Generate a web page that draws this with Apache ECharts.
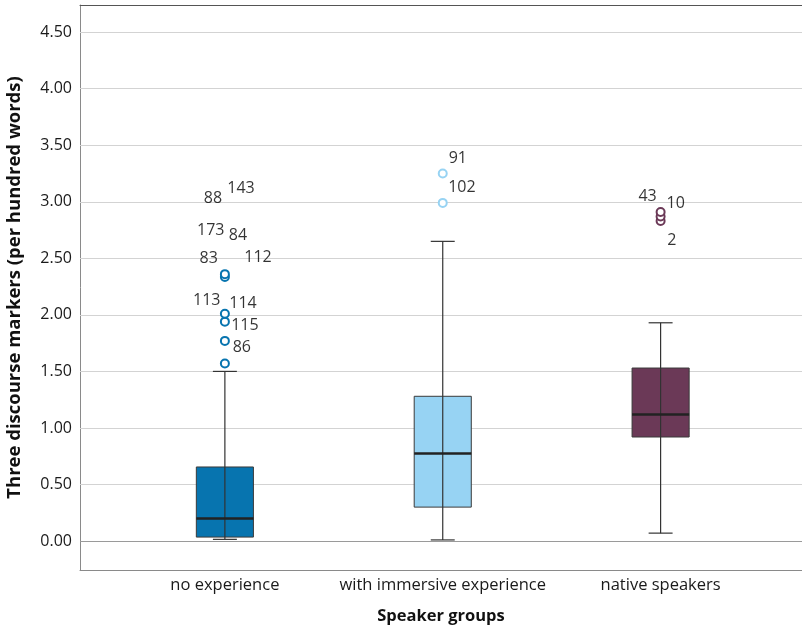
<!DOCTYPE html>
<html>
<head>
<meta charset="utf-8">
<script src="https://cdn.jsdelivr.net/npm/echarts@6/dist/echarts.min.js"></script>
<style>html,body{margin:0;padding:0;background:#fff;}#chart{width:802px;height:630px;}</style>
</head>
<body>
<div id="chart"></div>
<script>
// ---- data ----
const groups = ['no experience', 'with immersive experience', 'native speakers'];
const whiskerLow = [0.015, 0.01, 0.07];
const q1 = [0.035, 0.30, 0.92];
const median = [0.20, 0.775, 1.12];
const q3 = [0.655, 1.28, 1.53];
const whiskerHigh = [1.50, 2.65, 1.93];
const outliers = [
  [1.57, 1.77, 1.94, 2.01, 2.335, 2.36],
  [2.99, 3.25],
  [2.83, 2.87, 2.91]
];
// outlier case labels (anchor in data units)
const outlierLabelX = [-0.055, 0.074, -0.065, 0.060, -0.074, 0.152, -0.083, 0.083, 0.092, 0.078, 1.069, 1.088, 1.940, 2.069, 2.051];
const outlierLabelY = [3.033, 3.121, 2.750, 2.706, 2.502, 2.511, 2.131, 2.104, 1.910, 1.715, 3.386, 3.130, 3.050, 2.989, 2.66];
const outlierLabelText = ['88', '143', '173', '84', '83', '112', '113', '114', '115', '86', '91', '102', '43', '10', '2'];
const yTicks = [0, 0.5, 1, 1.5, 2, 2.5, 3, 3.5, 4, 4.5];
const boxColors = ['#0774AF', '#97D3F3', '#6B3957'];

const FONT = "'Open Sans', 'Noto Sans', sans-serif";
const X_MIN = -0.665, X_MAX = 2.649;

const boxData = groups.map((g, i) => [i, whiskerLow[i], q1[i], median[i], q3[i], whiskerHigh[i]]);

function renderBox(params, api) {
  const i = api.value(0);
  const pLow = api.coord([i, api.value(1)]);
  const pQ1 = api.coord([i, api.value(2)]);
  const pMed = api.coord([i, api.value(3)]);
  const pQ3 = api.coord([i, api.value(4)]);
  const pHigh = api.coord([i, api.value(5)]);
  const halfW = api.size([0.262, 0])[0] / 2;
  const capHalf = api.size([0.11, 0])[0] / 2;
  const cx = pMed[0];
  return {
    type: 'group',
    children: [
      { type: 'rect', shape: { x: cx - halfW, y: pQ3[1], width: halfW * 2, height: pQ1[1] - pQ3[1] },
        style: { fill: boxColors[i], stroke: '#3a3a3a', lineWidth: 1 } },
      { type: 'line', shape: { x1: cx, y1: pLow[1], x2: cx, y2: pHigh[1] },
        style: { stroke: '#333', lineWidth: 1.2 } },
      { type: 'line', shape: { x1: cx - capHalf, y1: pLow[1], x2: cx + capHalf, y2: pLow[1] },
        style: { stroke: '#333', lineWidth: 1.2 } },
      { type: 'line', shape: { x1: cx - capHalf, y1: pHigh[1], x2: cx + capHalf, y2: pHigh[1] },
        style: { stroke: '#333', lineWidth: 1.2 } },
      { type: 'line', shape: { x1: cx - halfW, y1: pMed[1], x2: cx + halfW, y2: pMed[1] },
        style: { stroke: '#222', lineWidth: 2.5 } }
    ]
  };
}

const outlierSeries = outliers.map((vals, i) => ({
  type: 'scatter',
  data: vals.map(v => [i, v]),
  symbol: 'circle',
  symbolSize: 8,
  itemStyle: { color: '#fff', borderColor: boxColors[i], borderWidth: 2, opacity: 1 },
  z: 4,
  silent: true
}));

const labelData = outlierLabelText.map((t, k) => ({ value: [outlierLabelX[k], outlierLabelY[k]], name: t }));

const chart = echarts.init(document.getElementById('chart'), null, { renderer: 'canvas' });
chart.setOption({
  animation: false,
  backgroundColor: '#fff',
  grid: { left: 80, right: 0, top: 5, bottom: 60, outerBoundsMode: 'none', containLabel: false, show: false },
  xAxis: [{
    type: 'value',
    min: X_MIN, max: X_MAX,
    splitLine: { show: false },
    axisTick: { show: false },
    axisLine: { show: true, onZero: false, lineStyle: { color: '#8a8a8a' } },
    axisLabel: {
      customValues: [0, 1, 2],
      formatter: v => groups[Math.round(v)] || '',
      fontFamily: FONT, fontSize: 16.5, color: '#1a1a1a', margin: 7
    },
    name: 'Speaker groups',
    nameLocation: 'middle',
    nameGap: 38,
    nameTextStyle: { fontFamily: FONT, fontSize: 16.5, fontWeight: 'bold', color: '#111' }
  }, {
    type: 'value',
    position: 'top',
    min: X_MIN, max: X_MAX,
    splitLine: { show: false },
    axisTick: { show: false },
    axisLabel: { show: false },
    axisLine: { show: true, onZero: false, lineStyle: { color: '#555' } }
  }],
  yAxis: {
    type: 'value',
    min: -0.256, max: 4.74,
    splitLine: { show: false },
    axisTick: { show: false },
    axisLine: { show: true, onZero: false, lineStyle: { color: '#8a8a8a' } },
    axisLabel: {
      customValues: yTicks,
      formatter: v => v.toFixed(2),
      fontFamily: FONT, fontSize: 16, color: '#1a1a1a', margin: 8
    },
    name: 'Three discourse markers (per hundred words)',
    nameLocation: 'middle',
    nameGap: 56,
    nameTextStyle: { fontFamily: FONT, fontSize: 18.5, fontWeight: 'bold', color: '#111' }
  },
  series: [
    {
      type: 'scatter',
      data: [],
      silent: true,
      z: 1,
      markLine: {
        silent: true,
        z: 1,
        symbol: ['none', 'none'],
        label: { show: false },
        animation: false,
        data: yTicks.map(v => ({ yAxis: v, lineStyle: { color: v === 0 ? '#9a9a9a' : '#d3d3d3', width: 1, type: 'solid' } }))
      }
    },
    {
      type: 'custom',
      data: boxData,
      renderItem: renderBox,
      z: 3,
      silent: true,
      encode: { x: 0, y: [1, 2, 3, 4, 5] }
    },
    ...outlierSeries,
    {
      type: 'scatter',
      data: labelData,
      symbolSize: 1,
      itemStyle: { color: 'rgba(0,0,0,0)' },
      silent: true,
      z: 5,
      label: {
        show: true, position: 'inside', formatter: '{b}',
        fontFamily: FONT, fontSize: 16, color: '#000'
      }
    }
  ]
});
</script>
</body>
</html>
